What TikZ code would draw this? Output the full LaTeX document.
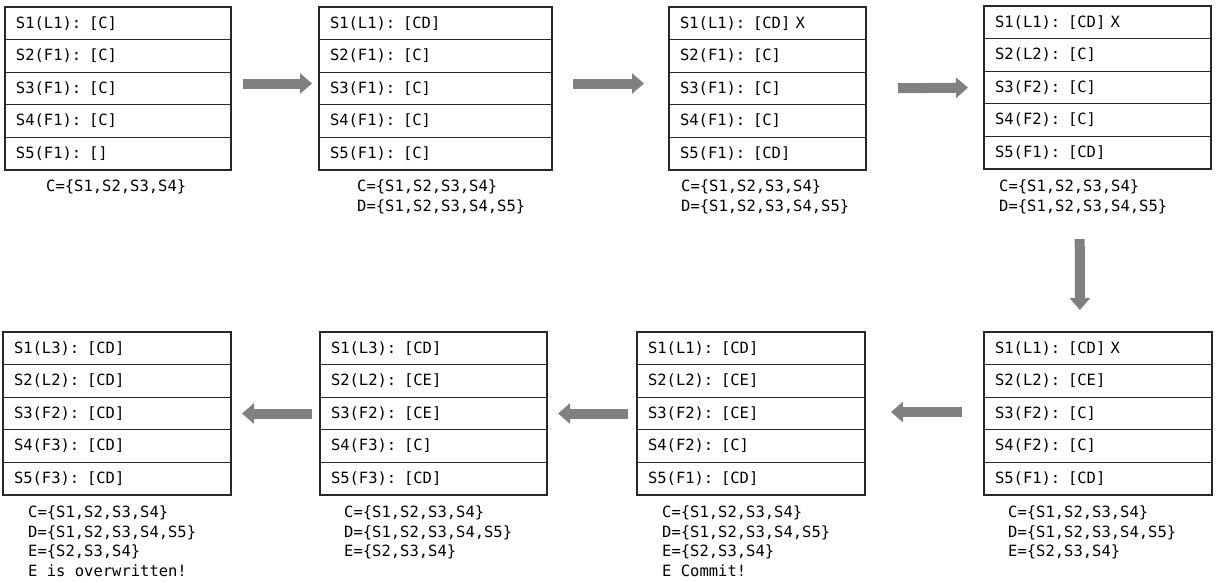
\documentclass[tikz,border=0pt]{standalone}
\usepackage{fontspec}
\usepackage{tikz}
\usetikzlibrary{positioning,arrows.meta}
\newfontfamily\monof{DejaVu Sans Mono}
\newcommand{\cellfont}{\monof\fontsize{15.5}{19.5}\selectfont}
\definecolor{ArrGray} {RGB}{128,128,128}
\definecolor{CellLine}{RGB}{40,40,40}
\tikzset{
  rowcell/.style={
    rectangle, draw=CellLine, fill=white, line width=1.2pt,
    outer sep=0pt, inner xsep=11pt, inner ysep=0pt,
    minimum height=32.6pt, text width=#1,
    align=left, font=\cellfont},
  capt/.style={
    anchor=north west, inner sep=0pt, align=left, font=\cellfont},
  bigarr/.style={
    draw=ArrGray, line width=10pt,
    -{Triangle[length=12pt,width=20pt]}},
}
% one state: name, top-left corner, text width, five rows
\newcommand{\statebox}[8]{%
  \node[rowcell=#3,anchor=north west] (#1-1) at #2 {#4};
  \node[rowcell=#3,below=0pt of #1-1] (#1-2) {#5};
  \node[rowcell=#3,below=0pt of #1-2] (#1-3) {#6};
  \node[rowcell=#3,below=0pt of #1-3] (#1-4) {#7};
  \node[rowcell=#3,below=0pt of #1-4] (#1-5) {#8};
}

\begin{document}
\begin{tikzpicture}[x=1pt,y=-1pt]
\useasboundingbox (0,0) rectangle (1218,582);

%% top row
\statebox{B1}{(5,7)}{204pt}{S1(L1): [C]}{S2(F1): [C]}{S3(F1): [C]}{S4(F1): [C]}{S5(F1): []}
\statebox{B2}{(319,7)}{211pt}{S1(L1): [CD]}{S2(F1): [C]}{S3(F1): [C]}{S4(F1): [C]}{S5(F1): [C]}
\statebox{B3}{(669,7)}{175pt}{S1(L1): [CD] X}{S2(F1): [C]}{S3(F1): [C]}{S4(F1): [C]}{S5(F1): [CD]}
\statebox{B4}{(984,6)}{205pt}{S1(L1): [CD] X}{S2(L2): [C]}{S3(F2): [C]}{S4(F2): [C]}{S5(F1): [CD]}

\node[capt] (c1) at (46,180)  {C=\{S1,S2,S3,S4\}};
\node[capt] (c2) at (357,180) {C=\{S1,S2,S3,S4\}\\D=\{S1,S2,S3,S4,S5\}};
\node[capt] (c3) at (681,180) {C=\{S1,S2,S3,S4\}\\D=\{S1,S2,S3,S4,S5\}};
\node[capt] (c4) at (999,180) {C=\{S1,S2,S3,S4\}\\D=\{S1,S2,S3,S4,S5\}};

%% bottom row
\statebox{B5}{(984,332)}{206pt}{S1(L1): [CD] X}{S2(L2): [CE]}{S3(F2): [C]}{S4(F2): [C]}{S5(F1): [CD]}
\statebox{B6}{(637,332)}{206pt}{S1(L1): [CD]}{S2(L2): [CE]}{S3(F2): [CE]}{S4(F2): [C]}{S5(F1): [CD]}
\statebox{B7}{(320,332)}{205pt}{S1(L3): [CD]}{S2(L2): [CE]}{S3(F2): [CE]}{S4(F3): [C]}{S5(F3): [CD]}
\statebox{B8}{(3,332)}{206pt}{S1(L3): [CD]}{S2(L2): [CD]}{S3(F2): [CD]}{S4(F3): [CD]}{S5(F3): [CD]}

\node[capt] (c5) at (1008,506) {C=\{S1,S2,S3,S4\}\\D=\{S1,S2,S3,S4,S5\}\\E=\{S2,S3,S4\}};
\node[capt] (c6) at (662,506)  {C=\{S1,S2,S3,S4\}\\D=\{S1,S2,S3,S4,S5\}\\E=\{S2,S3,S4\}\\E Commit!};
\node[capt] (c7) at (344,506)  {C=\{S1,S2,S3,S4\}\\D=\{S1,S2,S3,S4,S5\}\\E=\{S2,S3,S4\}};
\node[capt] (c8) at (28,506)   {C=\{S1,S2,S3,S4\}\\D=\{S1,S2,S3,S4,S5\}\\E=\{S2,S3,S4\}\\E is overwritten!};

%% arrows
\draw[bigarr,shorten <=12pt,shorten >=7pt]  ([yshift=5pt]B1-3.east) -- ([yshift=5pt]B2-3.west);
\draw[bigarr,shorten <=21pt,shorten >=25pt] ([yshift=5pt]B2-3.east) -- ([yshift=5pt]B3-3.west);
\draw[bigarr,shorten <=32pt,shorten >=16pt] (B3-3.east) -- (B4-3.west);
\draw[bigarr,shorten <=70pt,shorten >=22pt] ([xshift=-18pt]B4-5.south) -- ([xshift=-18pt]B5-1.north);
\draw[bigarr,shorten <=22pt,shorten >=26pt] ([yshift=1.5pt]B5-3.west) -- ([yshift=1.5pt]B6-3.east);
\draw[bigarr,shorten <=9pt,shorten >=11pt]  (B6-3.west) -- (B7-3.east);
\draw[bigarr,shorten <=8pt,shorten >=11pt]  (B7-3.west) -- (B8-3.east);

\end{tikzpicture}
\end{document}
